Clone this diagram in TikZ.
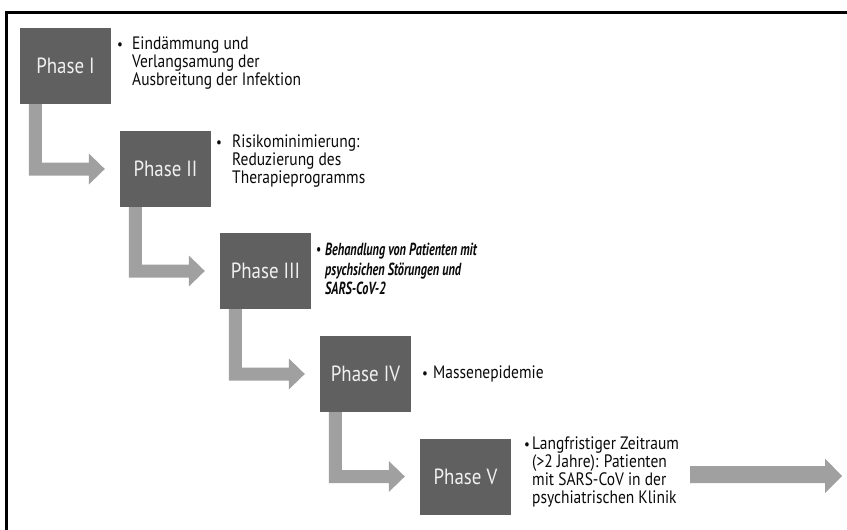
\documentclass[tikz,border=0pt]{standalone}
\usepackage{fontspec}
\setmainfont[FakeStretch=0.86]{PT Sans}
\newfontfamily\condbi[FakeStretch=0.70]{PT Sans}
\usetikzlibrary{calc}
\definecolor{boxgray}{HTML}{606060}
\definecolor{arrowgray}{HTML}{A0A0A0}
\definecolor{txtgray}{HTML}{0A0A0A}
\tikzset{
  phasebox/.style={fill=boxgray, minimum width=91pt, minimum height=76pt, inner sep=0pt,
    text=white!94!black, font=\fontsize{22}{24}\selectfont},
  bullettext/.style={anchor=north west, inner sep=0pt, align=left, text=txtgray,
    font=\fontsize{18}{18}\selectfont},
  arrowfill/.style={fill=arrowgray, draw=none},
}
\newcommand{\bul}[1]{\makebox[#1][l]{\raisebox{0.8pt}{\fontsize{15}{15}\selectfont\textbullet}}}
\newcommand{\ind}[1]{\hspace*{#1}}
\newcommand{\phasearrow}[2]{%
  \fill[arrowfill] let \p1=(#1.south west), \p2=(#2.west) in
    (\x1+9pt,\y1) -- (\x1+9pt,\y2-6.5pt) -- (\x2-31pt,\y2-6.5pt) -- (\x2-31pt,\y2-15.5pt)
    -- (\x2-15pt,\y2) -- (\x2-31pt,\y2+15.5pt) -- (\x2-31pt,\y2+6.5pt)
    -- (\x1+22pt,\y2+6.5pt) -- (\x1+22pt,\y1) -- cycle;}
\begin{document}
\begin{tikzpicture}[x=1pt,y=-1pt]
\useasboundingbox (0,0) rectangle (847,530);
\clip (0,0) rectangle (847,530);
\fill[white] (0,0) rectangle (847,530);
\draw[black, line width=3pt] (6,12) rectangle (870,560);

\node[phasebox] (p1) at (65.5,66) {Phase I};
\node[phasebox] (p2) at (165.5,169) {Phase II};
\node[phasebox] (p3) at (265.5,271) {Phase III};
\node[phasebox] (p4) at (365.5,374) {Phase IV};
\node[phasebox] (p5) at (465.5,476.5) {Phase V};

\phasearrow{p1}{p2}
\phasearrow{p2}{p3}
\phasearrow{p3}{p4}
\phasearrow{p4}{p5}

\node[bullettext] (t1) at (117,37) {\bul{15pt}Eindämmung und\\\ind{15pt}Verlangsamung der\\\ind{15pt}Ausbreitung der Infektion};
\node[bullettext] (t2) at (216,135) {\bul{16pt}Risikominimierung:\\\ind{16pt}Reduzierung des\\\ind{16pt}Therapieprogramms};
\node[bullettext, font=\fontsize{17.5}{19.5}\selectfont\condbi\bfseries\itshape] (t3) at (316,243) {\bul{9pt}Behandlung von Patienten mit\\\ind{9pt}psychsichen Störungen und\\\ind{9pt}SARS-CoV-2};
\node[bullettext] (t4) at (422,366) {\bul{11pt}Massenepidemie};
\node[bullettext] (t5) at (524,437) {\bul{8pt}Langfristiger Zeitraum\\\ind{8pt}(>2 Jahre): Patienten\\\ind{8pt}mit SARS-CoV in der\\\ind{8pt}psychiatrischen Klinik};

\coordinate (fa) at (690,474.5);
\fill[arrowfill] (fa) ++(0,-8.5) -- ++(135,0) -- ++(0,-7.5) -- (842,476) -- (825,493) -- (825,483) -- (690,483) -- cycle;
\end{tikzpicture}
\end{document}
